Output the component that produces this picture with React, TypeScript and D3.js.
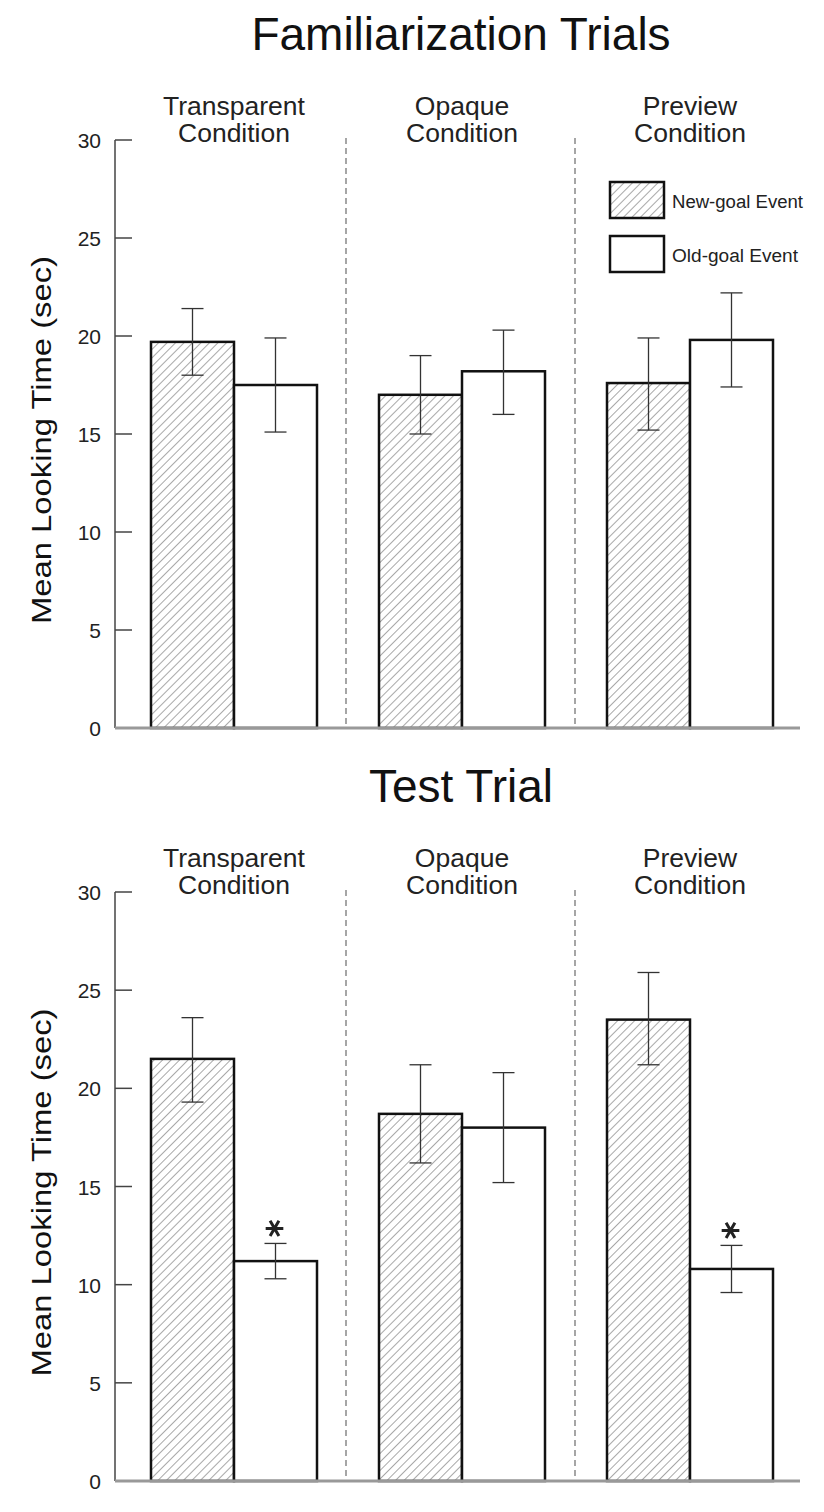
import React from "react";
import * as d3 from "d3";

const conditions = ["Transparent", "Opaque", "Preview"];
const series = ["New-goal Event", "Old-goal Event"];
const yTicks = [0, 5, 10, 15, 20, 25, 30];

const famNew = [19.7, 17.0, 17.6];
const famNewLo = [18.0, 15.0, 15.2];
const famNewHi = [21.4, 19.0, 19.9];
const famOld = [17.5, 18.2, 19.8];
const famOldLo = [15.1, 16.0, 17.4];
const famOldHi = [19.9, 20.3, 22.2];

const testNew = [21.5, 18.7, 23.5];
const testNewLo = [19.3, 16.2, 21.2];
const testNewHi = [23.6, 21.2, 25.9];
const testOld = [11.2, 18.0, 10.8];
const testOldLo = [10.3, 15.2, 9.6];
const testOldHi = [12.1, 20.8, 12.0];
const testSig = [true, false, true];

const FONT = "Helvetica, 'Liberation Sans', Arial, sans-serif";

type PanelProps = {
  title: string;
  titleY: number;
  top: number;
  bottom: number;
  newV: number[];
  newLo: number[];
  newHi: number[];
  oldV: number[];
  oldLo: number[];
  oldHi: number[];
  sig?: boolean[];
  legend?: boolean;
};

const asteriskPath = d3.symbol(d3.symbolAsterisk, 220)() as string;

function Panel(p: PanelProps) {
  const axisX = 115;
  const y = d3.scaleLinear().domain([0, 30]).range([p.bottom, p.top]);
  const groups = d3.scaleBand().domain(conditions).range([120, 804]).paddingInner(0).paddingOuter(0);
  const bw = groups.bandwidth();
  const inner = d3.scaleBand().domain(series).range([0, 166]);
  const barOffset = (bw - 166) / 2;
  const seps = [346, 575];
  return (
    <g>
      <text x={461} y={p.titleY} textAnchor="middle" fontSize={46} fontFamily={FONT} fill="#111">
        {p.title}
      </text>
      {conditions.map((c) => {
        const cx = (groups(c) as number) + bw / 2;
        return (
          <text key={c} x={cx} y={p.top - 25} textAnchor="middle" fontSize={26.5} fontFamily={FONT} fill="#222">
            <tspan x={cx}>{c}</tspan>
            <tspan x={cx} dy={27}>Condition</tspan>
          </text>
        );
      })}
      {/* y axis */}
      <line x1={axisX} x2={axisX} y1={y(30)} y2={y(0)} stroke="#444" strokeWidth={1.5} />
      {yTicks.map((t) => (
        <g key={t}>
          <line x1={axisX} x2={axisX + 17} y1={y(t)} y2={y(t)} stroke="#444" strokeWidth={1.5} />
          <text x={101} y={y(t) + 8} textAnchor="end" fontSize={21} fontFamily={FONT} fill="#222">
            {t}
          </text>
        </g>
      ))}
      <text
        transform={`translate(51,${(p.top + p.bottom) / 2 + 6}) rotate(-90)`}
        textAnchor="middle"
        fontSize={28}
        fontFamily={FONT}
        fill="#111"
        textLength={368}
        lengthAdjust="spacingAndGlyphs"
      >
        Mean Looking Time (sec)
      </text>
      {seps.map((sx) => (
        <line key={sx} x1={sx} x2={sx} y1={p.top - 2} y2={y(0)} stroke="#777" strokeWidth={1.3} strokeDasharray="6,4" />
      ))}
      {conditions.map((c, i) => {
        const gx = (groups(c) as number) + barOffset;
        const bars = [
          { s: series[0], v: p.newV[i], lo: p.newLo[i], hi: p.newHi[i] },
          { s: series[1], v: p.oldV[i], lo: p.oldLo[i], hi: p.oldHi[i] },
        ];
        return (
          <g key={c}>
            {bars.map((b, j) => {
              const x0 = gx + (inner(b.s) as number);
              const w = inner.bandwidth();
              const cx = x0 + w / 2;
              return (
                <g key={b.s}>
                  <rect
                    x={x0}
                    y={y(b.v)}
                    width={w}
                    height={y(0) - y(b.v)}
                    fill={j === 0 ? "url(#hatch)" : "#fff"}
                    stroke="#111"
                    strokeWidth={2.5}
                  />
                  <line x1={cx} x2={cx} y1={y(b.hi)} y2={y(b.lo)} stroke="#333" strokeWidth={1.3} />
                  <line x1={cx - 11} x2={cx + 11} y1={y(b.hi)} y2={y(b.hi)} stroke="#333" strokeWidth={1.3} />
                  <line x1={cx - 11} x2={cx + 11} y1={y(b.lo)} y2={y(b.lo)} stroke="#333" strokeWidth={1.3} />
                  {j === 1 && p.sig && p.sig[i] ? (
                    <path
                      d={asteriskPath}
                      transform={`translate(${cx - 1},${y(b.hi) - 15}) rotate(90)`}
                      fill="none"
                      stroke="#222"
                      strokeWidth={3}
                    />
                  ) : null}
                </g>
              );
            })}
          </g>
        );
      })}
      <line x1={axisX} x2={800} y1={y(0)} y2={y(0)} stroke="#999" strokeWidth={3} />
      {p.legend ? (
        <g>
          <rect x={610} y={182} width={54} height={36} fill="url(#hatch)" stroke="#111" strokeWidth={2.5} />
          <text x={672} y={208} fontSize={18} fontFamily={FONT} fill="#222" textLength={131} lengthAdjust="spacingAndGlyphs">
            {series[0]}
          </text>
          <rect x={610} y={236} width={54} height={36} fill="#fff" stroke="#111" strokeWidth={2.5} />
          <text x={672} y={262} fontSize={18} fontFamily={FONT} fill="#222" textLength={126} lengthAdjust="spacingAndGlyphs">
            {series[1]}
          </text>
        </g>
      ) : null}
    </g>
  );
}

export default function App() {
  return (
    <svg width={824} height={1512} style={{ display: "block", position: "absolute", left: 0, top: 0, background: "#fff" }}>
      <defs>
        <pattern id="hatch" patternUnits="userSpaceOnUse" width={6} height={6} patternTransform="rotate(45)">
          <rect width={6} height={6} fill="#fff" />
          <line x1={0} y1={0} x2={0} y2={6} stroke="#a8a8a8" strokeWidth={2} />
        </pattern>
      </defs>
      <Panel
        title="Familiarization Trials"
        titleY={50}
        top={140}
        bottom={728}
        newV={famNew}
        newLo={famNewLo}
        newHi={famNewHi}
        oldV={famOld}
        oldLo={famOldLo}
        oldHi={famOldHi}
        legend
      />
      <Panel
        title="Test Trial"
        titleY={802}
        top={892}
        bottom={1481}
        newV={testNew}
        newLo={testNewLo}
        newHi={testNewHi}
        oldV={testOld}
        oldLo={testOldLo}
        oldHi={testOldHi}
        sig={testSig}
      />
    </svg>
  );
}
